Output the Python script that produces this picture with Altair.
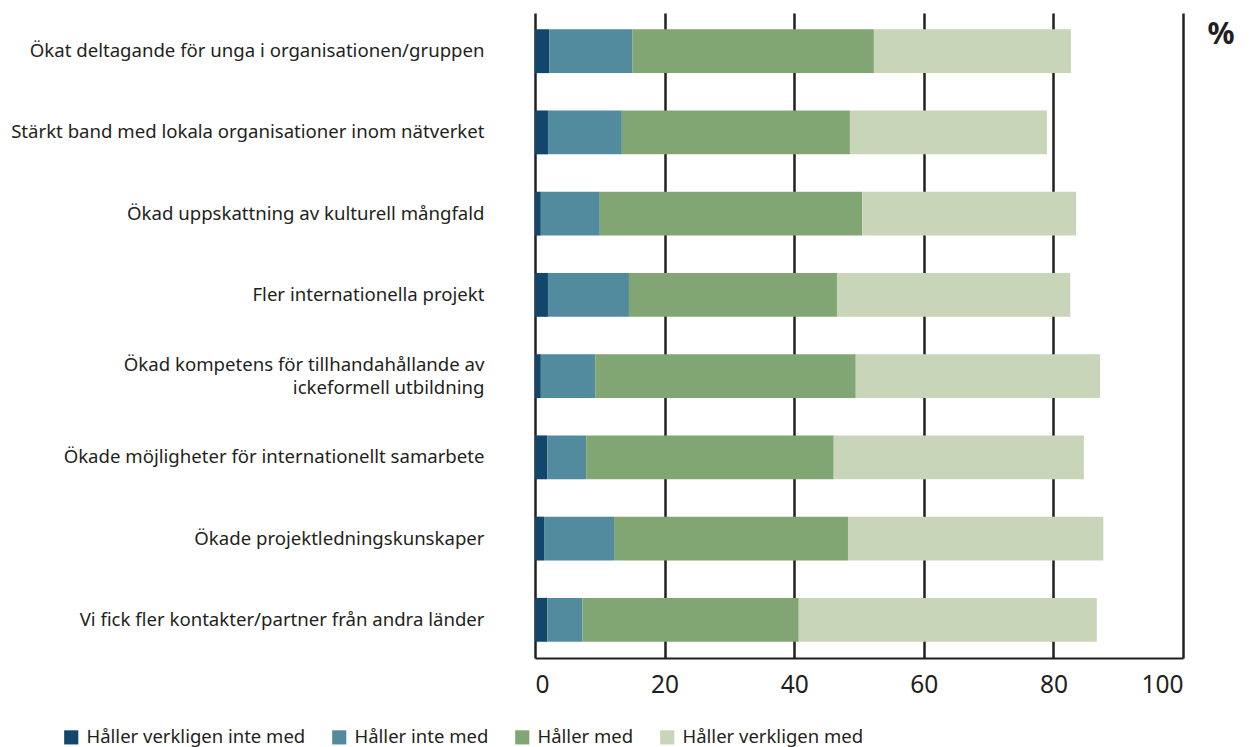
import altair as alt
import pandas as pd

categories = [
    "Ökat deltagande för unga i organisationen/gruppen",
    "Stärkt band med lokala organisationer inom nätverket",
    "Ökad uppskattning av kulturell mångfald",
    "Fler internationella projekt",
    "Ökad kompetens för tillhandahållande av|ickeformell utbildning",
    "Ökade möjligheter för internationellt samarbete",
    "Ökade projektledningskunskaper",
    "Vi fick fler kontakter/partner från andra länder",
]
series = ["Håller verkligen inte med", "Håller inte med", "Håller med", "Håller verkligen med"]
v_strong_disagree = [2.2, 2.0, 0.9, 2.0, 0.9, 1.9, 1.4, 1.9]
v_disagree = [12.8, 11.4, 9.1, 12.5, 8.4, 6.0, 10.8, 5.4]
v_agree = [37.3, 35.2, 40.5, 32.1, 40.2, 38.2, 36.1, 33.4]
v_strong_agree = [30.4, 30.4, 33.0, 36.0, 37.7, 38.6, 39.4, 46.0]
colors = ["#12466A", "#528B9E", "#82A673", "#C9D5B8"]
x_ticks = [0, 20, 40, 60, 80, 100]

rows = []
for si, vals in enumerate([v_strong_disagree, v_disagree, v_agree, v_strong_agree]):
    for c, v in zip(categories, vals):
        rows.append({"cat": c, "series": series[si], "order": si, "value": v})
df = pd.DataFrame(rows)

FONT = "Noto Sans"
INK = "#231f20"

bars = alt.Chart(df).mark_bar().encode(
    y=alt.Y("cat:N", sort=categories, title=None,
            scale=alt.Scale(paddingInner=0.46, paddingOuter=0.2),
            axis=alt.Axis(labelExpr="split(datum.label, '|')", labelFontSize=18.6,
                          labelColor=INK, labelFont=FONT, labelPadding=51,
                          labelLimit=1000, ticks=False, domain=False, grid=False,
                          labelLineHeight=23,
                          labelOffset={"condition": {"test": "indexof(datum.value, '|') >= 0",
                                                     "value": -11.5},
                                       "value": 0})),
    x=alt.X("value:Q", stack="zero", title=None,
            scale=alt.Scale(domain=[0, 100], nice=False),
            axis=alt.Axis(values=x_ticks, labelFontSize=24.5, labelColor=INK,
                          labelFont=FONT, labelPadding=15, ticks=False,
                          domain=True, domainColor=INK, domainWidth=2,
                          grid=True, gridColor=INK, gridWidth=2.5, gridOpacity=1)),
    color=alt.Color("series:N", sort=series, title=None,
                    scale=alt.Scale(domain=series, range=colors),
                    legend=alt.Legend(orient="none", direction="horizontal",
                                      legendX=-473, legendY=715,
                                      symbolType="square", symbolSize=200,
                                      symbolStrokeWidth=0, symbolOpacity=1,
                                      labelFontSize=18.5, labelFont=FONT,
                                      labelColor=INK, columnPadding=24,
                                      labelOffset=6, labelLimit=400)),
    order=alt.Order("order:Q", sort="ascending"),
)

pct = alt.Chart(pd.DataFrame({"t": ["%"]})).mark_text(
    font=FONT, fontSize=30, fontWeight="bold", color=INK, align="center", baseline="middle"
).encode(text="t:N", x=alt.value(686), y=alt.value(22))

chart = alt.layer(bars, pct).properties(
    width=648, height=645, padding={"left": 2, "top": 5, "right": 5, "bottom": 5}
).configure(font=FONT).configure_view(stroke=None)

chart.save("out.html", embed_options={"renderer": "svg", "actions": False})
